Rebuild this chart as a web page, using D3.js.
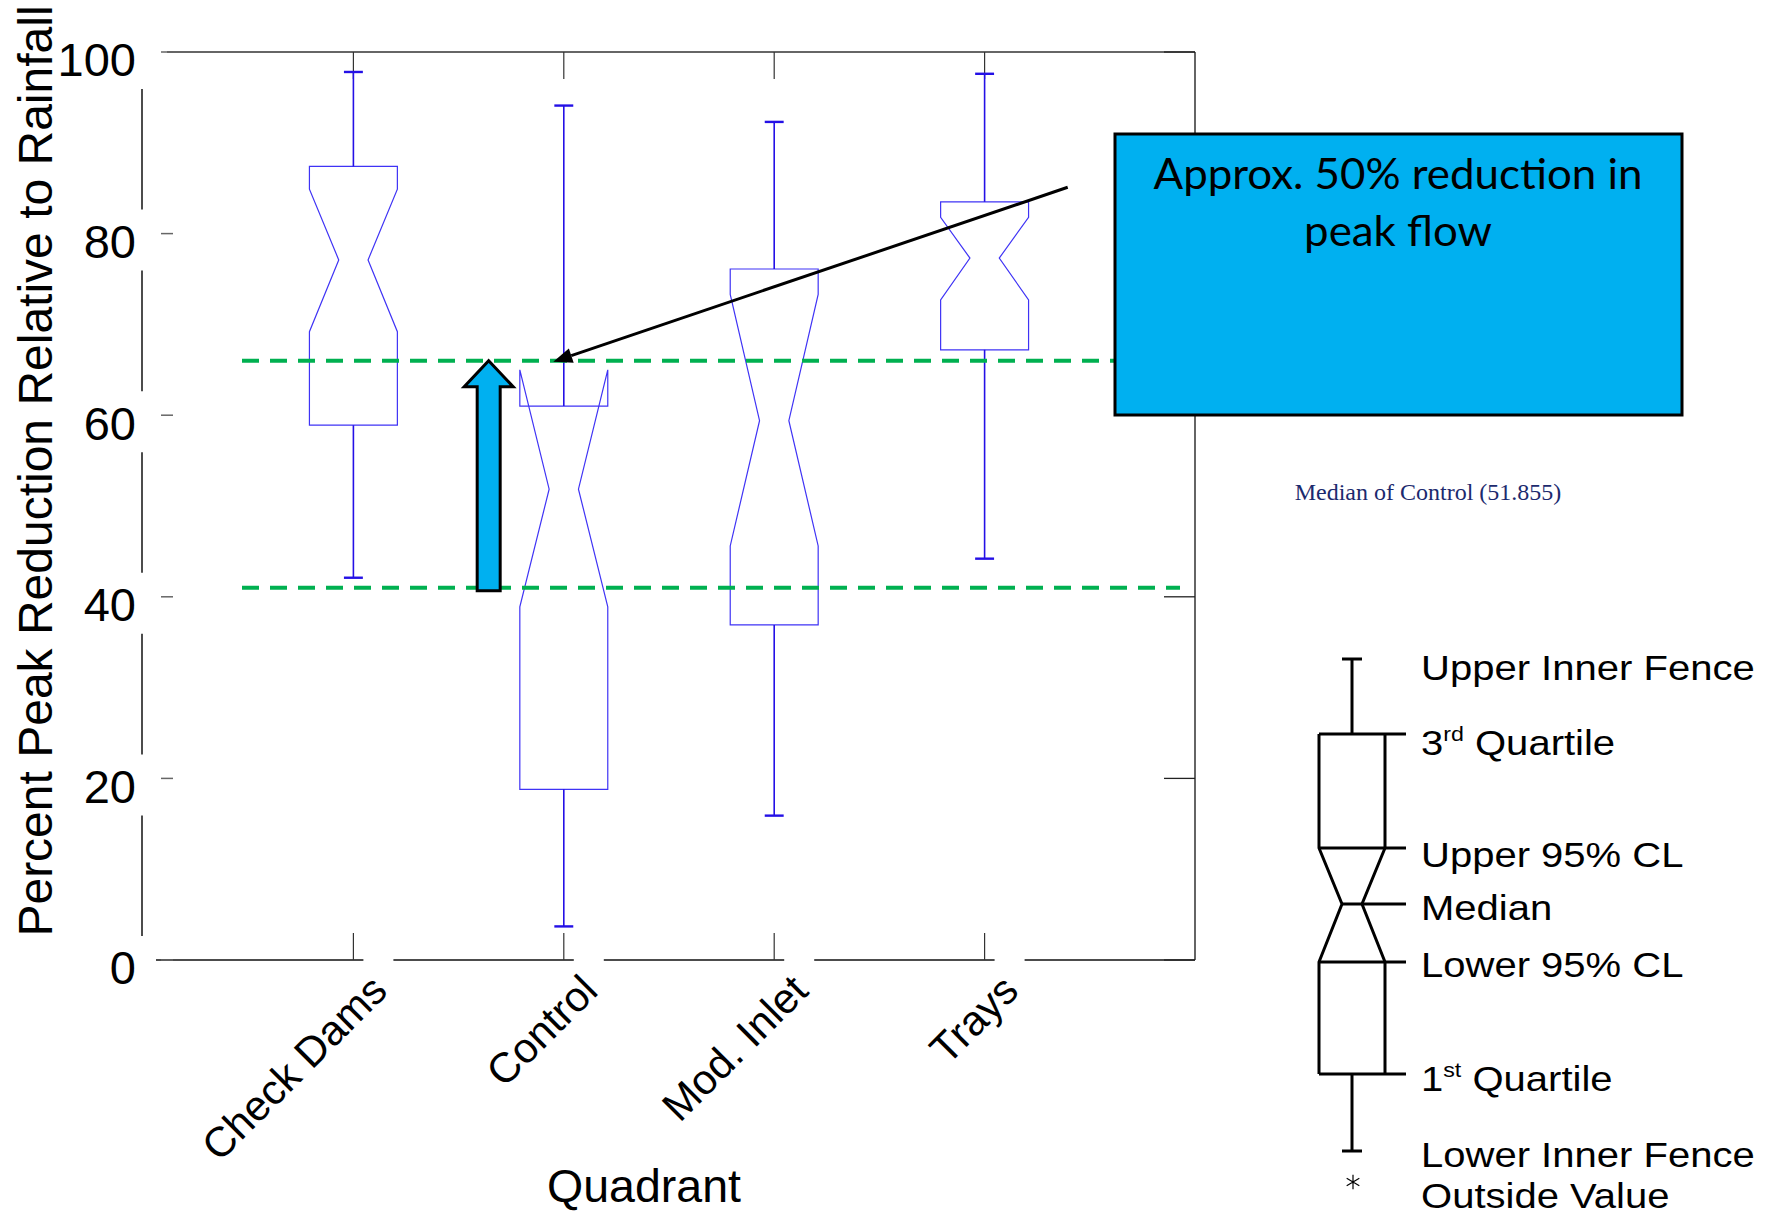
<!DOCTYPE html>
<html>
<head>
<meta charset="utf-8">
<script src="https://cdn.jsdelivr.net/npm/d3@7"></script>
<style>
  body { margin: 0; background: #fff; }
  svg { display: block; }
</style>
</head>
<body>
<svg id="chart" width="1769" height="1215"></svg>
<script>
// ---- data: notched box-plot summary per quadrant ----
const categories  = ["Check Dams", "Control", "Mod. Inlet", "Trays"];
const lowerFence  = [42.1,  3.7, 15.9, 44.2];
const quartile1   = [58.9, 18.8, 36.9, 67.2];
const lowerCL     = [69.2, 38.9, 45.6, 72.7];
const medians     = [77.1, 51.855, 59.4, 77.3];
const upperCL     = [84.9, 65.0, 73.3, 81.8];
const quartile3   = [87.4, 61.0, 76.1, 83.5];
const upperFence  = [97.8, 94.1, 92.3, 97.6];

const yTicks = [0, 20, 40, 60, 80, 100];
const referenceLevels = [66, 41];          // green dashed guide lines
const controlMedian = medians[1];
const calloutLines = ["Approx. 50% reduction in", "peak flow"];
const legendLabels = [
  ["Upper Inner Fence"], ["3", "rd", " Quartile"], ["Upper 95% CL"], ["Median"],
  ["Lower 95% CL"], ["1", "st", " Quartile"], ["Lower Inner Fence"], ["Outside Value"]
];

// ---- layout ----
const svg = d3.select("#chart");
const plot = { left: 143, right: 1195, top: 52, bottom: 960 };
const x = d3.scalePoint().domain(categories).range([plot.left, plot.right]).padding(1);
const y = d3.scaleLinear().domain([0, 100]).range([plot.bottom, plot.top]);
const step = x.step();
const boxHalf = step * 0.209;
const notchHalf = boxHalf / 3;
const capHalf = step * 0.045;
const sans = "'Liberation Sans', Arial, sans-serif";

const rows = categories.map((c, i) => ({
  cat: c, lf: lowerFence[i], q1: quartile1[i], lcl: lowerCL[i], med: medians[i],
  ucl: upperCL[i], q3: quartile3[i], uf: upperFence[i]
}));

// ---- frame ----
const frame = svg.append("g").attr("fill", "none");
frame.append("line").attr("x1", 167).attr("x2", plot.right).attr("y1", plot.top).attr("y2", plot.top)
  .attr("stroke", "#333").attr("stroke-width", 1.5);
frame.append("line").attr("x1", plot.right).attr("x2", plot.right).attr("y1", plot.top).attr("y2", plot.bottom)
  .attr("stroke", "#111").attr("stroke-width", 1.3);

// broken vertical axis line: gaps where the tick labels sit
const axisX = 142;
let yStops = [plot.top];
yTicks.map(t => y(t)).sort((a, b) => a - b).forEach(p => { yStops.push(p - 24, p + 37); });
yStops.push(plot.bottom);
for (let k = 0; k < yStops.length; k += 2) {
  const a = Math.max(plot.top, yStops[k]), b = Math.min(plot.bottom, yStops[k + 1]);
  if (b > a) frame.append("line").attr("x1", axisX).attr("x2", axisX).attr("y1", a).attr("y2", b)
    .attr("stroke", "#111").attr("stroke-width", 1.5);
}

// broken bottom axis line: gaps beside each category tick
let xStops = [156];
categories.forEach(c => { xStops.push(x(c) + 10, x(c) + 40); });
xStops.push(plot.right);
for (let k = 0; k < xStops.length; k += 2) {
  frame.append("line").attr("x1", xStops[k]).attr("x2", xStops[k + 1]).attr("y1", plot.bottom).attr("y2", plot.bottom)
    .attr("stroke", "#111").attr("stroke-width", 1.5);
}

// tick marks
yTicks.forEach(t => {
  frame.append("line").attr("x1", 161).attr("x2", 173).attr("y1", y(t)).attr("y2", y(t))
    .attr("stroke", "#666").attr("stroke-width", 1.5);
  frame.append("line").attr("x1", plot.right - 31).attr("x2", plot.right).attr("y1", y(t)).attr("y2", y(t))
    .attr("stroke", "#222").attr("stroke-width", 1.3);
});
categories.forEach(c => {
  frame.append("line").attr("x1", x(c)).attr("x2", x(c)).attr("y1", plot.top).attr("y2", plot.top + 27)
    .attr("stroke", "#333").attr("stroke-width", 1.2);
  frame.append("line").attr("x1", x(c)).attr("x2", x(c)).attr("y1", plot.bottom - 27).attr("y2", plot.bottom)
    .attr("stroke", "#333").attr("stroke-width", 1.2);
});

// y tick labels
const yAxis = d3.axisLeft(y).tickValues(yTicks).tickSize(0).tickPadding(0).tickFormat(d3.format("d"));
const ya = svg.append("g").attr("transform", "translate(136,0)").call(yAxis);
ya.select(".domain").remove();
ya.selectAll("text").attr("dy", "0.51em").attr("font-family", sans).attr("font-size", 47).attr("fill", "#000");

// category labels
svg.append("g").selectAll("text").data(categories).join("text")
  .attr("transform", c => `translate(${x(c) + 36},993) rotate(-45)`)
  .attr("text-anchor", "end").attr("font-family", sans).attr("font-size", 42).attr("fill", "#000")
  .text(c => c);

// axis titles
svg.append("text").attr("x", 644).attr("y", 1202).attr("text-anchor", "middle")
  .attr("font-family", sans).attr("font-size", 46.5).text("Quadrant");
svg.append("text").attr("transform", "translate(52,471) rotate(-90)").attr("text-anchor", "middle")
  .attr("font-family", sans).attr("font-size", 48).text("Percent Peak Reduction Relative to Rainfall");

// ---- notched boxes ----
const boxPath = d => {
  const cx = x(d.cat);
  const pts = [
    [cx - boxHalf, y(d.q3)], [cx - boxHalf, y(d.ucl)], [cx - notchHalf, y(d.med)],
    [cx - boxHalf, y(d.lcl)], [cx - boxHalf, y(d.q1)], [cx + boxHalf, y(d.q1)],
    [cx + boxHalf, y(d.lcl)], [cx + notchHalf, y(d.med)], [cx + boxHalf, y(d.ucl)],
    [cx + boxHalf, y(d.q3)]
  ];
  return "M" + pts.map(p => p.join(",")).join("L") + "Z";
};
const boxes = svg.append("g");
boxes.selectAll("path.box").data(rows).join("path").attr("class", "box")
  .attr("d", boxPath).attr("fill", "none").attr("stroke", "#3f33f5").attr("stroke-width", 1.2);

const whisk = svg.append("g").attr("stroke", "#2410e6");
rows.forEach(d => {
  const cx = x(d.cat);
  whisk.append("line").attr("x1", cx).attr("x2", cx).attr("y1", y(d.q3)).attr("y2", y(d.uf)).attr("stroke-width", 1.6);
  whisk.append("line").attr("x1", cx).attr("x2", cx).attr("y1", y(d.q1)).attr("y2", y(d.lf)).attr("stroke-width", 1.6);
  whisk.append("line").attr("x1", cx - capHalf).attr("x2", cx + capHalf).attr("y1", y(d.uf)).attr("y2", y(d.uf)).attr("stroke-width", 2.4);
  whisk.append("line").attr("x1", cx - capHalf).attr("x2", cx + capHalf).attr("y1", y(d.lf)).attr("y2", y(d.lf)).attr("stroke-width", 2.4);
});

// ---- green reference lines ----
svg.append("g").selectAll("line").data(referenceLevels).join("line")
  .attr("x1", 242).attr("x2", 1180).attr("y1", d => y(d)).attr("y2", d => y(d))
  .attr("stroke", "#00b050").attr("stroke-width", 4).attr("stroke-dasharray", "17,11");

// ---- upward block arrow between the two reference levels ----
const ax = x("Control") - step * 0.357;
const [hiLevel, loLevel] = referenceLevels;
const arrowPts = [
  [ax, y(hiLevel)], [ax + 24.5, y(hiLevel) + 26], [ax + 11.5, y(hiLevel) + 26], [ax + 11.5, y(loLevel) + 3],
  [ax - 11.5, y(loLevel) + 3], [ax - 11.5, y(hiLevel) + 26], [ax - 24.5, y(hiLevel) + 26]
];
svg.append("path").attr("d", "M" + arrowPts.map(p => p.join(",")).join("L") + "Z")
  .attr("fill", "#00b0f0").attr("stroke", "#000").attr("stroke-width", 3).attr("stroke-linejoin", "miter");

// ---- pointer arrow from callout to the control median level ----
const p0 = [x("Trays") + step * 0.395, y(85.1)];
const p1 = [x("Control") - step * 0.05, y(hiLevel) + 1];
const ang = Math.atan2(p1[1] - p0[1], p1[0] - p0[0]);
const headLen = 19, headHalf = 7.5;
const base = [p1[0] - headLen * Math.cos(ang), p1[1] - headLen * Math.sin(ang)];
svg.append("line").attr("x1", p0[0]).attr("y1", p0[1]).attr("x2", base[0]).attr("y2", base[1])
  .attr("stroke", "#000").attr("stroke-width", 3);
svg.append("path").attr("d", "M" + [
  p1,
  [base[0] + headHalf * Math.sin(ang), base[1] - headHalf * Math.cos(ang)],
  [base[0] - headHalf * Math.sin(ang), base[1] + headHalf * Math.cos(ang)]
].map(p => p.join(",")).join("L") + "Z").attr("fill", "#000");

// ---- callout box ----
svg.append("rect").attr("x", 1115).attr("y", 134).attr("width", 567).attr("height", 281)
  .attr("fill", "#00b0f0").attr("stroke", "#000").attr("stroke-width", 3);
const callout = svg.append("g").selectAll("text").data(calloutLines).join("text")
  .attr("text-anchor", "middle")
  .attr("font-family", "Lato, 'Open Sans', sans-serif").attr("font-size", 43).attr("fill", "#000")
  .text(d => d);
// widen the callout text uniformly so the first line spans the box's text width
const firstWidth = callout.node().getComputedTextLength();
const stretch = 489 / firstWidth;
callout.attr("transform", (d, i) => `translate(1398,${189 + i * 57}) scale(${stretch},1)`);

svg.append("text").attr("x", 1428).attr("y", 500).attr("text-anchor", "middle")
  .attr("font-family", "'Liberation Serif', 'Times New Roman', serif").attr("font-size", 24)
  .attr("fill", "#1c2a6e").text(`Median of Control (${controlMedian})`);

// ---- legend (schematic notched box) ----
const lg = svg.append("g").attr("stroke", "#000").attr("stroke-width", 3).attr("fill", "none");
const L = { cx: 1352, bl: 1319, br: 1385, nl: 1342, nr: 1362, ext: 1406,
  uf: 659, q3: 734, ucl: 848, med: 904, lcl: 962, q1: 1074, lf: 1151 };
lg.append("line").attr("x1", L.cx).attr("x2", L.cx).attr("y1", L.uf).attr("y2", L.q3);
lg.append("line").attr("x1", L.nl).attr("x2", L.nr).attr("y1", L.uf).attr("y2", L.uf);
lg.append("line").attr("x1", L.cx).attr("x2", L.cx).attr("y1", L.q1).attr("y2", L.lf);
lg.append("line").attr("x1", L.nl).attr("x2", L.nr).attr("y1", L.lf).attr("y2", L.lf);
lg.append("path").attr("d",
  `M${L.bl},${L.q3}L${L.bl},${L.ucl}L${L.nl},${L.med}L${L.bl},${L.lcl}L${L.bl},${L.q1}` +
  `M${L.br},${L.q3}L${L.br},${L.ucl}L${L.nr},${L.med}L${L.br},${L.lcl}L${L.br},${L.q1}`);
[L.q3, L.ucl, L.lcl, L.q1].forEach(v => lg.append("line").attr("x1", L.bl).attr("x2", L.ext).attr("y1", v).attr("y2", v));
lg.append("line").attr("x1", L.nl).attr("x2", L.ext).attr("y1", L.med).attr("y2", L.med);
svg.append("path").attr("d", d3.symbol(d3.symbolAsterisk, 150)())
  .attr("transform", `translate(${L.cx + 1},1182)`).attr("fill", "none").attr("stroke", "#000").attr("stroke-width", 1.2);

const legendBase = [680, 755, 867, 920, 977, 1091, 1167, 1208];
const lt = svg.append("g").attr("font-family", sans).attr("font-size", 34.5).attr("fill", "#000");
legendLabels.forEach((parts, i) => {
  const t = lt.append("text").attr("transform", `translate(1421,${legendBase[i]}) scale(1.16,1)`);
  if (parts.length === 1) { t.text(parts[0]); return; }
  t.append("tspan").text(parts[0]);
  t.append("tspan").attr("font-size", 20).attr("dy", -14).text(parts[1]);
  t.append("tspan").attr("dy", 14).text(parts[2]);
});
</script>
</body>
</html>
